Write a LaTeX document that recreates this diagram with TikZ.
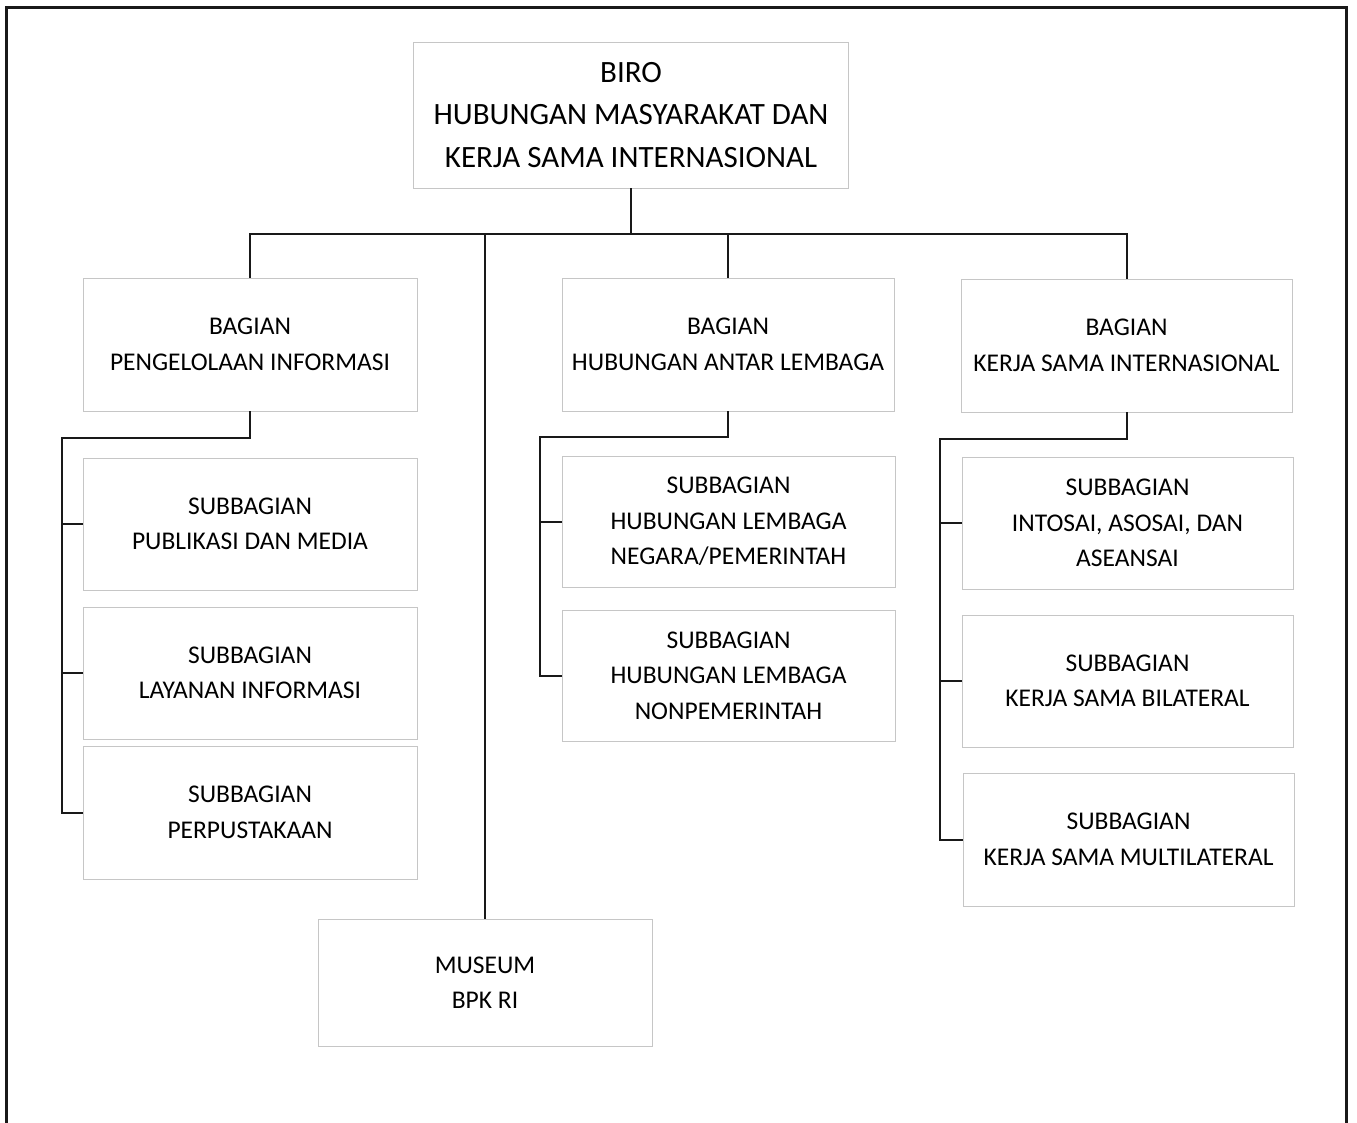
\documentclass[tikz,border=0pt]{standalone}
\usepackage{fontspec}
\setmainfont{Carlito}
\begin{document}
\begin{tikzpicture}[x=1pt,y=-1pt,
  box/.style={draw=gray!45, line width=0.8pt, inner sep=0pt, align=center, text=black,
    font=\fontsize{25.5}{35.5}\selectfont},
  conn/.style={draw=black!90, line width=2pt},
  frame/.style={draw=black!90, line width=3pt}]
\useasboundingbox (0,0) rectangle (1357,1123);
% outer frame (open at the bottom edge)
\draw[frame] (6,1123) -- (6,8) -- (1346,8) -- (1346,1123);

\node[box, minimum width=435, minimum height=146, font=\fontsize{31}{42.5}\selectfont] (top) at (631,115)
  {BIRO\\HUBUNGAN MASYARAKAT DAN\\KERJA SAMA INTERNASIONAL};

\node[box, minimum width=334, minimum height=133] (bpi) at (250,344.5) {BAGIAN\\PENGELOLAAN INFORMASI};
\node[box, minimum width=332, minimum height=133] (hal) at (728,344.5) {BAGIAN\\HUBUNGAN ANTAR LEMBAGA};
\node[box, minimum width=331, minimum height=133] (ksi) at (1126.5,345.5) {BAGIAN\\KERJA SAMA INTERNASIONAL};

\node[box, minimum width=334, minimum height=132] (s1) at (250,524) {SUBBAGIAN\\PUBLIKASI DAN MEDIA};
\node[box, minimum width=334, minimum height=132] (s2) at (250,673) {SUBBAGIAN\\LAYANAN INFORMASI};
\node[box, minimum width=334, minimum height=133] (s3) at (250,812.5) {SUBBAGIAN\\PERPUSTAKAAN};

\node[box, minimum width=333, minimum height=131] (m1) at (728.5,521.5) {SUBBAGIAN\\HUBUNGAN LEMBAGA\\NEGARA/PEMERINTAH};
\node[box, minimum width=333, minimum height=131] (m2) at (728.5,675.5) {SUBBAGIAN\\HUBUNGAN LEMBAGA\\NONPEMERINTAH};

\node[box, minimum width=331, minimum height=132] (r1) at (1127.5,523) {SUBBAGIAN\\INTOSAI, ASOSAI, DAN\\ASEANSAI};
\node[box, minimum width=331, minimum height=132] (r2) at (1127.5,681) {SUBBAGIAN\\KERJA SAMA BILATERAL};
\node[box, minimum width=331, minimum height=133] (r3) at (1128.5,839.5) {SUBBAGIAN\\KERJA SAMA MULTILATERAL};

\node[box, minimum width=334, minimum height=127] (mus) at (485,982.5) {MUSEUM\\BPK RI};

% top-level bus
\coordinate (bus) at (631,234);
\draw[conn] (top.south) -- (bus);
\draw[conn] (bpi.north) -- (bpi.north |- bus) -- (ksi.north |- bus) -- (ksi.north);
\draw[conn] (hal.north) -- (hal.north |- bus);
\draw[conn] (mus.north) -- (mus.north |- bus);

% left branch
\coordinate (ls) at (62,438);
\draw[conn] (bpi.south) |- (ls) -- (ls |- s3.west) -- (s3.west);
\draw[conn] (ls |- s1.west) -- (s1.west);
\draw[conn] (ls |- s2.west) -- (s2.west);

% middle branch
\coordinate (ms) at (540,437);
\draw[conn] (hal.south) |- (ms) -- (ms |- m2.west) -- (m2.west);
\draw[conn] (ms |- m1.west) -- (m1.west);

% right branch
\coordinate (rs) at (940,439);
\draw[conn] (ksi.south) |- (rs) -- (rs |- r3.west) -- (r3.west);
\draw[conn] (rs |- r1.west) -- (r1.west);
\draw[conn] (rs |- r2.west) -- (r2.west);
\end{tikzpicture}
\end{document}
